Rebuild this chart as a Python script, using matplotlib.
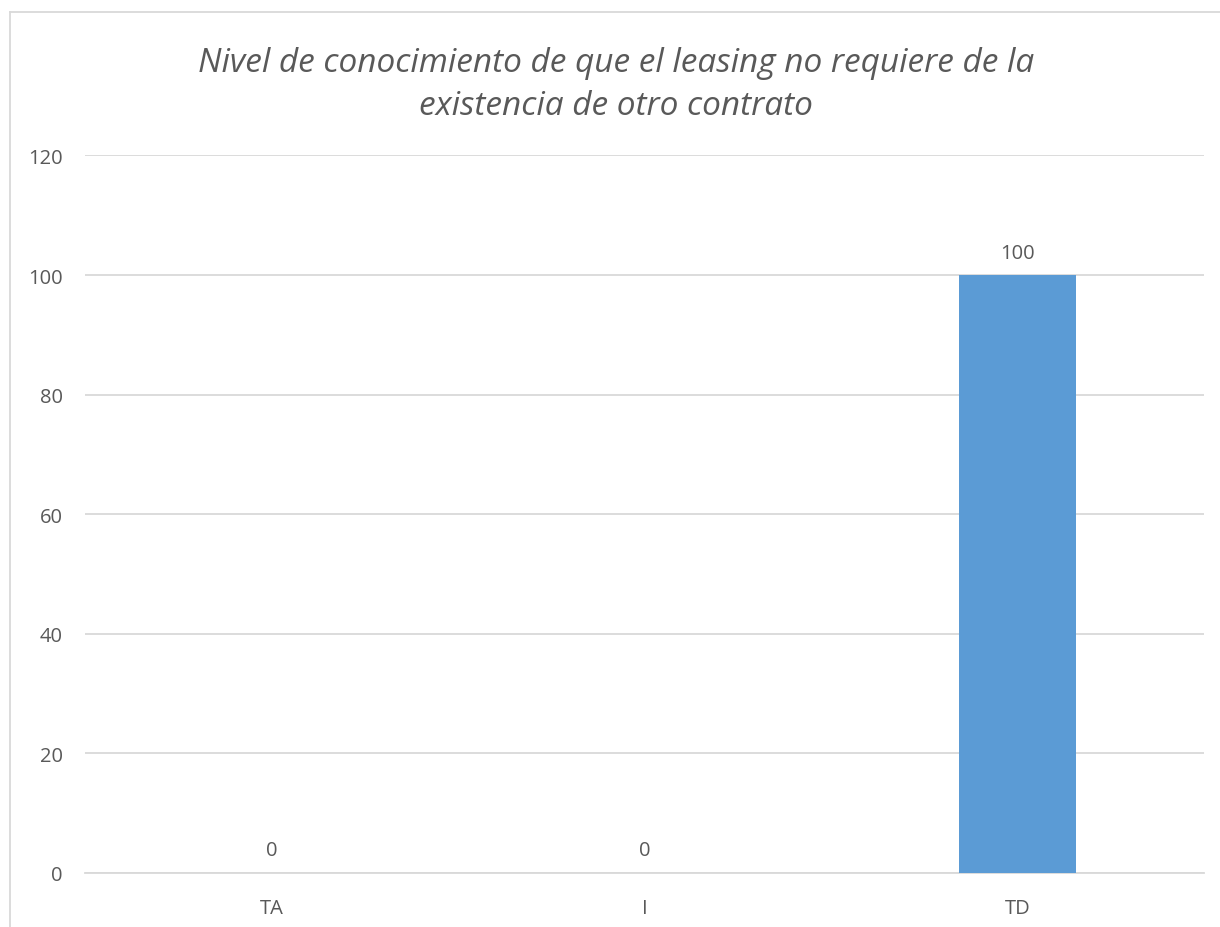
import matplotlib
matplotlib.use('Agg')
from matplotlib import pyplot as plt
from matplotlib.lines import Line2D

categories = ['TA', 'I', 'TD']
values = [0, 0, 100]
yticks = [0, 20, 40, 60, 80, 100, 120]

title = 'Nivel de conocimiento de que el leasing no requiere de la\nexistencia de otro contrato'

text_color = '#595959'
grid_color = '#d9d9d9'
bar_color = '#5b9bd5'

plt.rcParams['font.family'] = ['Open Sans', 'DejaVu Sans']


def main():
    fig = plt.figure(figsize=(12.2, 9.28), dpi=100)
    axes = fig.add_axes([0.0697, 0.0582, 0.9173, 0.7732])

    x = range(len(categories))
    bars = axes.bar(x, values, width=0.315, color=bar_color, zorder=3)

    axes.set_xlim(-0.5, len(categories) - 0.5)
    axes.set_ylim(0, 120)
    axes.set_yticks(yticks)
    axes.set_xticks(list(x))
    axes.set_xticklabels(categories)
    axes.tick_params(axis='both', length=0, labelsize=14.5, colors=text_color)
    axes.tick_params(axis='y', pad=16)
    axes.tick_params(axis='x', pad=18)

    axes.grid(axis='y', color=grid_color, linewidth=1.3, zorder=0)
    for side in ['top', 'right', 'left']:
        axes.spines[side].set_visible(False)
    axes.spines['bottom'].set_color(grid_color)
    axes.spines['bottom'].set_linewidth(1.3)

    for rect, v in zip(bars, values):
        axes.annotate(str(v), (rect.get_x() + rect.get_width() / 2, v),
                      xytext=(0, 9), textcoords='offset points',
                      ha='center', va='bottom', fontsize=14.5, color=text_color)

    fig.text(0.505, 0.908, title, ha='center', va='center', fontsize=24,
             style='italic', color=text_color, linespacing=1.4)

    # outer chart frame (only the top and left edges fall inside the image)
    fig.add_artist(Line2D([9.5 / 1220, 9.5 / 1220], [0, 1 - 12.5 / 928],
                          transform=fig.transFigure, color=grid_color, linewidth=1.3))
    fig.add_artist(Line2D([9.5 / 1220, 1], [1 - 12.5 / 928, 1 - 12.5 / 928],
                          transform=fig.transFigure, color=grid_color, linewidth=1.3))

    fig.savefig('out.png', dpi=100, facecolor='white')


if __name__ == '__main__':
    main()
